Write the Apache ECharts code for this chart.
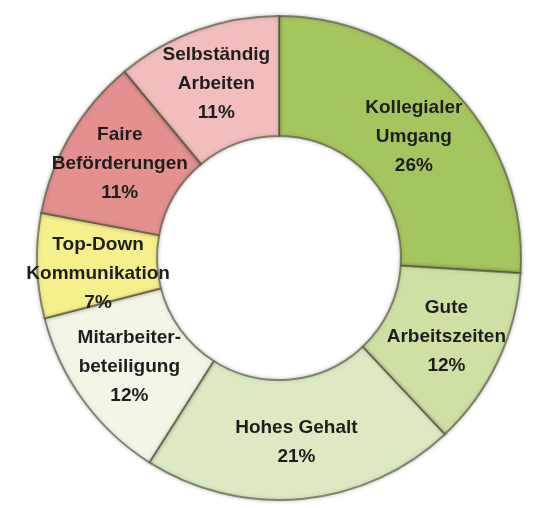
<!DOCTYPE html>
<html>
<head>
<meta charset="utf-8">
<script src="https://cdn.jsdelivr.net/npm/echarts@6/dist/echarts.min.js"></script>
<style>
html,body{margin:0;padding:0;background:#fff;}
#chart{width:538px;height:508px;}
</style>
</head>
<body>
<div id="chart"></div>
<script>
const categories = ['Kollegialer\nUmgang', 'Gute\nArbeitszeiten', 'Hohes Gehalt', 'Mitarbeiter-\nbeteiligung', 'Top-Down\nKommunikation', 'Faire\nBeförderungen', 'Selbständig\nArbeiten'];
const values = [26, 12, 21, 12, 7, 11, 11];
const colors = ['#a5c55e', '#cfe0a4', '#dde9c3', '#f3f6e7', '#f6f08c', '#e3908f', '#f2bdbd'];

const labelOffsets = {'Top-Down\nKommunikation': [4, 10], 'Kollegialer\nUmgang': [0, 5]};

const chart = echarts.init(document.getElementById('chart'), null, {renderer: 'canvas'});
chart.setOption({
  backgroundColor: '#ffffff',
  animation: false,
  series: [{
    type: 'pie',
    center: [279, 258],
    radius: [122, 242],
    startAngle: 90,
    clockwise: true,
    avoidLabelOverlap: false,
    minShowLabelAngle: 0,
    labelLayout: {hideOverlap: false},
    itemStyle: {
      borderColor: 'rgba(80,85,60,0.65)',
      borderWidth: 2,
      shadowColor: 'rgba(0,0,0,0.25)',
      shadowBlur: 4
    },
    label: {
      show: true,
      position: 'inside',
      formatter: p => p.name + '\n' + p.value + '%',
      fontFamily: 'Liberation Sans, Arial, sans-serif',
      fontWeight: 'bold',
      fontSize: 19,
      lineHeight: 29,
      color: '#1e1e1e'
    },
    labelLine: {show: false},
    data: categories.map((c, i) => {
      const item = {name: c, value: values[i], itemStyle: {color: colors[i]}};
      if (labelOffsets[c]) item.label = {offset: labelOffsets[c]};
      return item;
    })
  }]
});
</script>
</body>
</html>
